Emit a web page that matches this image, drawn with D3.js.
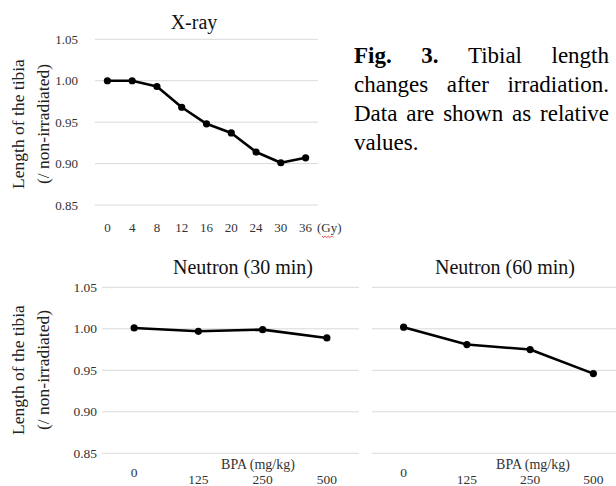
<!DOCTYPE html>
<html>
<head>
<meta charset="utf-8">
<script src="https://cdn.jsdelivr.net/npm/d3@7"></script>
<style>
  body { margin: 0; background: #fff; }
  svg { display: block; font-family: "Liberation Serif", "Times New Roman", serif; }
</style>
</head>
<body>
<div id="chart"></div>
<script>
var width = 616,
    height = 486;

// data
var xrayDoses = ["0", "4", "8", "12", "16", "20", "24", "30", "36"];
var xrayValues = [1.000, 1.000, 0.993, 0.968, 0.948, 0.937, 0.914, 0.901, 0.907];

var bpaDoses = ["0", "125", "250", "500"];
var neutron30Values = [1.001, 0.997, 0.999, 0.989];
var neutron60Values = [1.002, 0.981, 0.975, 0.946];

var yTicks = [0.85, 0.90, 0.95, 1.00, 1.05];

var captionLines = [
  [{t: "Fig.", b: true}, {t: "3.", b: true}, {t: "Tibial"}, {t: "length"}],
  [{t: "changes"}, {t: "after"}, {t: "irradiation."}],
  [{t: "Data"}, {t: "are"}, {t: "shown"}, {t: "as"}, {t: "relative"}],
  [{t: "values."}]
];

var svg = d3.select("#chart")
  .append("svg")
  .attr("width", width)
  .attr("height", height);

// one panel = gridlines + line + dots + ticks
function panel(opts) {
  var x = d3.scalePoint()
    .domain(opts.cats)
    .range(opts.xr)
    .padding(0.5);

  var y = d3.scaleLinear()
    .domain([0.85, 1.05])
    .range(opts.yr);

  var g = svg.append("g");

  g.selectAll(".grid")
    .data(yTicks)
    .enter().append("line")
    .attr("x1", opts.xr[0])
    .attr("x2", opts.xr[1])
    .attr("y1", function(d) { return y(d); })
    .attr("y2", function(d) { return y(d); })
    .attr("stroke", "#d9d9d9")
    .attr("stroke-width", 1);

  if (opts.yLabels) {
    g.selectAll(".ytick")
      .data(yTicks)
      .enter().append("text")
      .attr("x", opts.yLabelX)
      .attr("y", function(d) { return y(d) + 4.5; })
      .attr("text-anchor", "end")
      .attr("font-size", opts.tickSize)
      .attr("fill", "#333")
      .text(function(d) { return d3.format(".2f")(d); });
  }

  var line = d3.line()
    .x(function(d, i) { return x(opts.cats[i]); })
    .y(function(d) { return y(d); });

  g.append("path")
    .datum(opts.values)
    .attr("d", line)
    .attr("fill", "none")
    .attr("stroke", "#000")
    .attr("stroke-width", 2.6)
    .attr("stroke-linejoin", "round");

  g.selectAll(".dot")
    .data(opts.values)
    .enter().append("circle")
    .attr("cx", function(d, i) { return x(opts.cats[i]); })
    .attr("cy", function(d) { return y(d); })
    .attr("r", 3.6)
    .attr("fill", "#000");

  g.selectAll(".xtick")
    .data(opts.cats)
    .enter().append("text")
    .attr("x", function(d) { return x(d); })
    .attr("y", function(d, i) { return opts.xLabelY - (opts.raiseFirst && i == 0 ? 7 : 0); })
    .attr("text-anchor", "middle")
    .attr("font-size", opts.tickSize)
    .attr("fill", "#333")
    .text(function(d) { return d; });

  g.append("text")
    .attr("x", opts.titleX)
    .attr("y", opts.titleY)
    .attr("text-anchor", "middle")
    .attr("font-size", 20)
    .attr("fill", "#111")
    .text(opts.title);

  return {x: x, y: y, g: g};
}

var topPanel = panel({
  cats: xrayDoses, values: xrayValues,
  xr: [95, 318], yr: [205, 39.3],
  yLabels: true, yLabelX: 78, tickSize: 13,
  xLabelY: 232, title: "X-ray", titleX: 194, titleY: 29
});

// unit after last tick, with spell-check squiggle
topPanel.g.append("text")
  .attr("x", 317)
  .attr("y", 232)
  .attr("font-size", 13)
  .attr("fill", "#333")
  .text("(Gy)");

var squiggle = d3.range(0, 8).map(function(i) {
  return [322 + i * 1.6, 236 + (i % 2 ? 1.6 : 0)];
});
topPanel.g.append("path")
  .attr("d", d3.line()(squiggle))
  .attr("fill", "none")
  .attr("stroke", "#e03030")
  .attr("stroke-width", 0.9);

var leftPanel = panel({
  cats: bpaDoses, values: neutron30Values,
  xr: [102, 359], yr: [453.3, 287.3],
  yLabels: true, yLabelX: 97, tickSize: 13.5,
  xLabelY: 484, raiseFirst: true,
  title: "Neutron (30 min)", titleX: 243, titleY: 274
});

var rightPanel = panel({
  cats: bpaDoses, values: neutron60Values,
  xr: [372, 625], yr: [453.3, 287.3],
  yLabels: false, tickSize: 13.5,
  xLabelY: 484, raiseFirst: true,
  title: "Neutron (60 min)", titleX: 505, titleY: 274
});

[[258, leftPanel], [533, rightPanel]].forEach(function(p) {
  p[1].g.append("text")
    .attr("x", p[0])
    .attr("y", 469)
    .attr("text-anchor", "middle")
    .attr("font-size", 14)
    .attr("fill", "#333")
    .text("BPA (mg/kg)");
});

// y axis titles
[124, 370].forEach(function(cy) {
  svg.append("text")
    .attr("transform", "translate(24," + cy + ") rotate(-90)")
    .attr("text-anchor", "middle")
    .attr("font-size", 17.5)
    .attr("fill", "#222")
    .text("Length of the tibia");
  svg.append("text")
    .attr("transform", "translate(49," + cy + ") rotate(-90)")
    .attr("text-anchor", "middle")
    .attr("font-size", 17.5)
    .attr("fill", "#222")
    .text("(/ non-irradiated)");
});

// justified caption
var capLeft = 354, capRight = 609, capSize = 23;
captionLines.forEach(function(words, li) {
  var yy = 63 + li * 29;
  var nodes = words.map(function(w) {
    return svg.append("text")
      .attr("y", yy)
      .attr("font-size", capSize)
      .attr("font-weight", w.b ? "bold" : "normal")
      .attr("fill", "#000")
      .text(w.t);
  });
  var widths = nodes.map(function(n) { return n.node().getComputedTextLength(); });
  var total = d3.sum(widths);
  var last = li == captionLines.length - 1;
  var gap = (last || words.length < 2) ? capSize * 0.25 : (capRight - capLeft - total) / (words.length - 1);
  var xx = capLeft;
  nodes.forEach(function(n, i) {
    n.attr("x", xx);
    xx += widths[i] + gap;
  });
});
</script>
</body>
</html>
